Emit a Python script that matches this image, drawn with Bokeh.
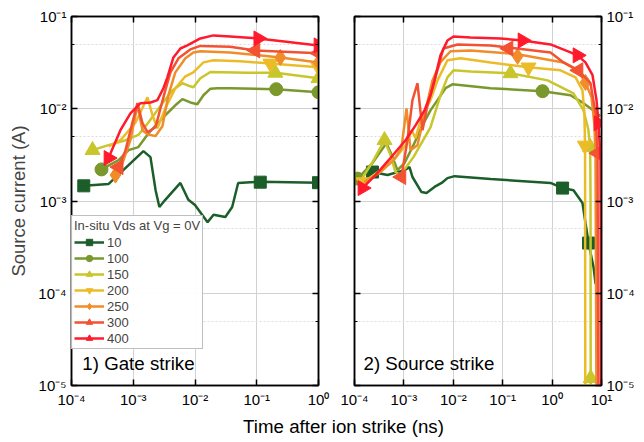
import numpy as np
from bokeh.plotting import figure
from bokeh.models import (LogAxis, FixedTicker, CustomJSTickFormatter, Legend,
                          LegendItem, Label, Range1d)
from bokeh.layouts import row, column
from bokeh.embed import file_html
from bokeh.resources import INLINE

# ---------------- data ----------------
series_labels = ["10", "100", "150", "200", "250", "300", "400"]

# Panel 1) Gate strike
g10_t = [1.58e-4, 4.0e-4, 1.46e-3, 1.9e-3, 2.3e-3, 2.65e-3, 3.3e-3, 5.8e-3, 7.8e-3, 1.0e-2,
         1.6e-2, 2.0e-2, 3.1e-2, 4.0e-2, 5.0e-2, 7.9e-2, 0.114, 1.0]
g10_i = [1.46e-3, 1.53e-3, 3.47e-3, 2.99e-3, 1.31e-3, 8.6e-4, 1.03e-3, 1.57e-3, 1.03e-3, 9.05e-4,
         5.9e-4, 7.1e-4, 6.7e-4, 8.6e-4, 1.57e-3, 1.6e-3, 1.62e-3, 1.58e-3]
g100_t = [3.06e-4, 5.8e-4, 8.4e-4, 1.21e-3, 1.76e-3, 3.3e-3, 4.8e-3, 6.25e-3, 8.4e-3, 1.09e-2,
          1.37e-2, 1.78e-2, 2.3e-2, 3.7e-2, 0.207, 1.0]
g100_i = [2.2e-3, 2.77e-3, 3.56e-3, 3.84e-3, 5.4e-3, 8.5e-3, 1.09e-2, 1.27e-2, 1.17e-2, 1.12e-2,
          1.4e-2, 1.65e-2, 1.67e-2, 1.67e-2, 1.63e-2, 1.51e-2]
g150_t = [2.19e-4, 3.97e-4, 7.5e-4, 1.21e-3, 1.76e-3, 2.97e-3, 4.3e-3, 6.25e-3, 7.5e-3, 9.4e-3,
          1.22e-2, 1.78e-2, 7.0e-2, 0.2, 1.0]
g150_i = [3.56e-3, 4.03e-3, 4.56e-3, 5.2e-3, 7.1e-3, 1.15e-2, 1.58e-2, 1.89e-2, 1.80e-2, 1.71e-2,
          2.14e-2, 2.5e-2, 2.45e-2, 2.45e-2, 2.14e-2]
g200_t = [4.0e-4, 6.2e-4, 1.09e-3, 1.70e-3, 2.05e-3, 2.46e-3, 3.3e-3, 4.8e-3, 7.0e-3, 9.4e-3,
          1.37e-2, 1.99e-2, 5.4e-2, 0.166, 1.0]
g200_i = [3.9e-3, 4.56e-3, 7.1e-3, 1.33e-2, 8.5e-3, 6.15e-3, 1.01e-2, 1.67e-2, 2.25e-2, 2.48e-2,
          3.18e-2, 3.35e-2, 3.27e-2, 3.1e-2, 2.81e-2]
g250_t = [5.15e-4, 6.7e-4, 9.0e-4, 1.17e-3, 1.41e-3, 1.70e-3, 2.29e-3, 2.97e-3, 3.7e-3, 4.8e-3,
          7.0e-3, 9.4e-3, 1.22e-2, 3.7e-2, 0.241, 1.0]
g250_i = [1.91e-3, 2.58e-3, 4.56e-3, 1.09e-2, 5.86e-3, 5.3e-3, 5.05e-3, 6.47e-3, 1.40e-2, 2.48e-2,
          3.52e-2, 4.08e-2, 4.2e-2, 4.08e-2, 3.6e-2, 3.18e-2]
g300_t = [5.8e-4, 7.5e-4, 9.7e-4, 1.17e-3, 1.41e-3, 1.70e-3, 2.29e-3, 3.3e-3, 4.0e-3, 5.4e-3,
          8.4e-3, 1.22e-2, 3.7e-2, 9.5e-2, 1.0]
g300_i = [2.33e-3, 3.56e-3, 7.1e-3, 1.15e-2, 6.97e-3, 5.57e-3, 6.3e-3, 1.58e-2, 2.48e-2, 3.52e-2,
          4.4e-2, 4.8e-2, 4.7e-2, 4.29e-2, 4.0e-2]
g400_t = [3.97e-4, 6.2e-4, 9.0e-4, 1.31e-3, 1.90e-3, 2.46e-3, 3.08e-3, 3.57e-3, 4.47e-3, 5.8e-3,
          7.5e-3, 1.22e-2, 1.99e-2, 3.7e-2, 0.106, 1.0]
g400_i = [2.92e-3, 5.86e-3, 8.9e-3, 1.15e-2, 1.17e-2, 1.24e-2, 1.67e-2, 2.19e-2, 3.6e-2, 4.5e-2,
          4.86e-2, 5.78e-2, 6.24e-2, 6.08e-2, 5.78e-2, 4.86e-2]

g10_mt, g10_mi = [1.58e-4, 0.114, 1.0], [1.46e-3, 1.6e-3, 1.58e-3]
g100_mt, g100_mi = [3.06e-4, 0.207, 1.0], [2.2e-3, 1.63e-2, 1.51e-2]
g150_mt, g150_mi = [2.19e-4, 0.2, 1.0], [3.56e-3, 2.45e-2, 2.14e-2]
g200_mt, g200_mi = [0.166, 1.0], [3.1e-2, 2.81e-2]
g250_mt, g250_mi = [5.15e-4, 0.241, 1.0], [1.91e-3, 3.6e-2, 3.18e-2]
g300_mt, g300_mi = [5.8e-4, 9.5e-2, 1.0], [2.33e-3, 4.29e-2, 4.0e-2]
g400_mt, g400_mi = [3.97e-4, 0.106, 1.0], [2.92e-3, 5.78e-2, 4.86e-2]

# Panel 2) Source strike
s10_t = [2.31e-4, 4.66e-4, 1.03e-3, 1.30e-3, 1.49e-3, 2.27e-3, 2.87e-3, 4.16e-3, 5.8e-3, 7.6e-3,
         1.06e-2, 5.7e-2, 0.93, 1.63, 2.71, 4.12, 4.74, 5.46, 6.89, 7.6]
s10_i = [2.06e-3, 1.91e-3, 2.16e-3, 2.33e-3, 1.82e-3, 1.25e-3, 1.22e-3, 1.42e-3, 1.57e-3, 1.77e-3,
         1.86e-3, 1.73e-3, 1.57e-3, 1.38e-3, 1.31e-3, 9.5e-4, 5.8e-4, 3.5e-4, 1.93e-4, 1.26e-4]
s100_t = [1.15e-4, 2.31e-4, 4.44e-4, 5.9e-4, 7.4e-4, 1.03e-3, 1.56e-3, 2.27e-3, 3.45e-3, 4.79e-3,
          6.95e-3, 9.6e-3, 5.7e-2, 0.64, 2.36, 4.32, 7.57, 9.55]
s100_i = [1.75e-3, 2.58e-3, 4.24e-3, 2.99e-3, 2.16e-3, 2.58e-3, 4.03e-3, 6.3e-3, 9.6e-3, 1.24e-2,
          1.67e-2, 1.84e-2, 1.67e-2, 1.55e-2, 1.40e-2, 1.15e-2, 9.2e-3, 8.3e-3]
s150_t = [1.32e-4, 2.31e-4, 4.05e-4, 5.35e-4, 6.76e-4, 8.5e-4, 1.56e-3, 3.45e-3, 5.5e-3, 7.6e-3,
          1.01e-2, 2.23e-2, 0.144, 0.81, 2.71, 4.32, 5.4, 5.9, 6.0, 6.05]
s150_i = [1.64e-3, 2.64e-3, 4.56e-3, 3.14e-3, 2.06e-3, 1.91e-3, 2.99e-3, 6.3e-3, 1.40e-2, 2.19e-2,
          2.61e-2, 2.54e-2, 2.42e-2, 2.03e-2, 1.47e-2, 9.6e-3, 6.0e-3, 3.8e-3, 1.0e-3, 5e-6]
s200_t = [1.52e-4, 3.36e-4, 6.76e-4, 1.08e-3, 1.43e-3, 1.72e-3, 2.27e-3, 3.45e-3, 4.79e-3, 7.6e-3,
          1.40e-2, 5.7e-2, 0.333, 1.48, 2.98, 4.12, 4.5, 4.65, 4.7]
s200_i = [1.60e-3, 2.16e-3, 2.92e-3, 4.03e-3, 5.86e-3, 4.8e-3, 8.1e-3, 1.24e-2, 2.03e-2, 3.35e-2,
          3.52e-2, 3.18e-2, 2.81e-2, 2.61e-2, 2.19e-2, 1.58e-2, 9.0e-3, 4.0e-3, 5e-6]
s250_t = [1.59e-4, 3.36e-4, 6.2e-4, 8.9e-4, 1.13e-3, 1.36e-3, 1.88e-3, 2.74e-3, 3.79e-3, 5.5e-3,
          8.8e-3, 2.23e-2, 0.2, 1.70, 3.27, 4.74, 6.28, 7.21, 7.57, 7.93]
s250_i = [1.6e-3, 2.06e-3, 2.77e-3, 3.74e-3, 1.01e-2, 3.56e-3, 4.03e-3, 9.6e-3, 2.03e-2, 3.2e-2,
          4.2e-2, 4.29e-2, 3.9e-2, 3.18e-2, 2.61e-2, 1.93e-2, 1.33e-2, 6.6e-3, 2.77e-3, 5e-6]
s300_t = [8.9e-4, 1.18e-3, 1.49e-3, 1.88e-3, 2.38e-3, 3.0e-3, 3.79e-3, 6.3e-3, 1.22e-2, 5.7e-2,
          0.131, 0.93, 1.70, 3.42, 5.99, 7.57, 8.3, 8.7]
s300_i = [1.82e-3, 4.56e-3, 1.24e-2, 1.89e-2, 5.86e-3, 1.09e-2, 1.67e-2, 4.5e-2, 4.98e-2, 4.86e-2,
          4.6e-2, 4.08e-2, 3.18e-2, 2.61e-2, 1.89e-2, 8.9e-3, 3.3e-3, 5e-6]
s400_t = [1.45e-4, 2.66e-4, 5.35e-4, 1.08e-3, 1.72e-3, 2.61e-3, 3.45e-3, 4.16e-3, 5.5e-3, 7.6e-3,
          1.01e-2, 2.23e-2, 9.0e-2, 0.252, 0.93, 2.36, 3.27, 4.74, 6.58, 7.93, 8.7, 9.55, 9.8]
s400_i = [1.38e-3, 1.91e-3, 2.92e-3, 4.56e-3, 6.6e-3, 9.6e-3, 1.40e-2, 2.03e-2, 3.79e-2, 5.5e-2,
          6.08e-2, 5.93e-2, 5.78e-2, 5.5e-2, 4.98e-2, 4.08e-2, 3.79e-2, 3.18e-2, 2.31e-2, 1.24e-2,
          6.97e-3, 2.77e-3, 5e-6]

s10_mt, s10_mi = [2.31e-4, 1.63, 5.46], [2.06e-3, 1.38e-3, 3.5e-4]
s100_mt, s100_mi = [1.15e-4, 0.64], [1.75e-3, 1.55e-2]
s150_mt, s150_mi = [4.05e-4, 0.144, 5.9, 6.05], [4.56e-3, 2.42e-2, 3.84e-3, 1.2e-5]
s200_mt, s200_mi = [1.52e-4, 0.333, 4.6], [1.6e-3, 2.81e-2, 4.0e-3]
s250_mt, s250_mi = [0.2, 4.74], [3.7e-2, 1.93e-2]
s300_mt, s300_mi = [8.9e-4, 0.131, 3.42, 8.3], [1.82e-3, 4.5e-2, 2.61e-2, 3.3e-3]
s400_mt, s400_mi = [1.45e-4, 0.252, 3.27, 8.7], [1.38e-3, 5.5e-2, 3.79e-2, 6.97e-3]

x_ticks_gate = [1e-4, 1e-3, 1e-2, 1e-1, 1e0]
x_ticks_source = [1e-4, 1e-3, 1e-2, 1e-1, 1e0, 1e1]
y_ticks = [1e-5, 1e-4, 1e-3, 1e-2, 1e-1]
y_minor_ticks = [5e-5, 5e-4, 5e-3, 5e-2]

# ---------------- style ----------------
colors = ["#1b5e2a", "#7a982c", "#c9c62c", "#ecbc28", "#f08c2a", "#f25232", "#ff1a2c"]
markers = ["square", "circle", "triangle", "inverted_triangle", "diamond", "triangle", "triangle"]
angles = [0, 0, 0, 0, 0, np.pi / 2, -np.pi / 2]
msizes = [12, 13, 15, 15, 16, 15, 15]
FONT = "Liberation Sans"

sup_fmt = CustomJSTickFormatter(code="""
const e = Math.round(Math.log10(tick));
const m = {'-':'\u207b','0':'\u2070','1':'\u00b9','2':'\u00b2','3':'\u00b3','4':'\u2074',
           '5':'\u2075','6':'\u2076','7':'\u2077','8':'\u2078','9':'\u2079'};
return '10' + String(e).split('').map(c => m[c]).join('');
""")
empty_fmt = CustomJSTickFormatter(code="return '';")


def style_axis(ax, ticks, minor, labels):
    ax.ticker = FixedTicker(ticks=ticks, minor_ticks=minor)
    ax.major_tick_in = 6
    ax.major_tick_out = 0
    ax.minor_tick_in = 3
    ax.minor_tick_out = 0
    ax.axis_line_color = "black"
    ax.axis_line_width = 1.5
    ax.major_tick_line_color = "black"
    ax.major_tick_line_width = 1.5
    ax.minor_tick_line_color = "black"
    ax.minor_tick_line_width = 1.2
    if labels:
        ax.formatter = sup_fmt
        ax.major_label_text_font = FONT
        ax.major_label_text_font_size = "15px"
        ax.major_label_text_color = "black"
        ax.major_label_standoff = 5
    else:
        ax.formatter = empty_fmt
        ax.major_label_text_font_size = "0px"
        ax.major_label_standoff = 0


def make_panel(x_end, xticks, width, bl, br, yside):
    p = figure(width=width, height=410, x_axis_type="log", y_axis_type="log",
               x_range=Range1d(1e-4, x_end), y_range=Range1d(1e-5, 1e-1),
               y_axis_location=yside, output_backend="svg", toolbar_location=None,
               min_border_left=bl, min_border_right=br, min_border_top=16, min_border_bottom=24)
    p.outline_line_color = "black"
    p.outline_line_width = 1.5
    style_axis(p.xaxis[0], xticks, [], True)
    style_axis(p.yaxis[0], y_ticks, y_minor_ticks, True)
    top = LogAxis()
    style_axis(top, xticks, [], False)
    p.add_layout(top, "above")
    other = LogAxis()
    style_axis(other, y_ticks, y_minor_ticks, False)
    p.add_layout(other, "right" if yside == "left" else "left")
    p.xgrid.ticker = FixedTicker(ticks=xticks)
    p.ygrid.ticker = FixedTicker(ticks=y_ticks, minor_ticks=y_minor_ticks)
    p.grid.grid_line_color = "#d2d2d2"
    p.grid.grid_line_width = 1
    p.ygrid.minor_grid_line_color = "#dcdcdc"
    p.ygrid.minor_grid_line_dash = "2 2"
    return p


p1 = make_panel(1e0, x_ticks_gate, 336, 71, 18, "left")
p1.yaxis[0].axis_label = "Source current (A)"
p1.yaxis[0].axis_label_text_font = FONT
p1.yaxis[0].axis_label_text_font_size = "18.5px"
p1.yaxis[0].axis_label_text_font_style = "normal"
p1.yaxis[0].axis_label_standoff = 6

p2 = make_panel(1e1, x_ticks_source, 301, 18, 36, "right")

gate_lines = [(g10_t, g10_i), (g100_t, g100_i), (g150_t, g150_i), (g200_t, g200_i),
              (g250_t, g250_i), (g300_t, g300_i), (g400_t, g400_i)]
gate_marks = [(g10_mt, g10_mi), (g100_mt, g100_mi), (g150_mt, g150_mi), (g200_mt, g200_mi),
              (g250_mt, g250_mi), (g300_mt, g300_mi), (g400_mt, g400_mi)]
src_lines = [(s10_t, s10_i), (s100_t, s100_i), (s150_t, s150_i), (s200_t, s200_i),
             (s250_t, s250_i), (s300_t, s300_i), (s400_t, s400_i)]
src_marks = [(s10_mt, s10_mi), (s100_mt, s100_mi), (s150_mt, s150_mi), (s200_mt, s200_mi),
             (s250_mt, s250_mi), (s300_mt, s300_mi), (s400_mt, s400_mi)]

items = []
for k in range(7):
    lr = p1.line(gate_lines[k][0], gate_lines[k][1], line_color=colors[k], line_width=2.5)
    sr = p1.scatter(gate_marks[k][0], gate_marks[k][1], marker=markers[k], size=msizes[k],
                    angle=angles[k], fill_color=colors[k], line_color=colors[k])
    items.append(LegendItem(label=series_labels[k], renderers=[lr, sr]))
    p2.line(src_lines[k][0], src_lines[k][1], line_color=colors[k], line_width=2.5)
    p2.scatter(src_marks[k][0], src_marks[k][1], marker=markers[k], size=msizes[k],
               angle=angles[k], fill_color=colors[k], line_color=colors[k])

legend = Legend(items=items, location=(0, 36), title="In-situ Vds at Vg = 0V")
legend.title_text_font = FONT
legend.title_text_font_size = "13px"
legend.title_text_font_style = "normal"
legend.title_standoff = 1
legend.label_text_font = FONT
legend.label_text_font_size = "13px"
legend.glyph_width = 30
legend.glyph_height = 16
legend.label_height = 16
legend.label_standoff = 3
legend.spacing = 0
legend.padding = 2
legend.margin = 0
legend.border_line_color = "#808080"
legend.border_line_width = 1
p1.add_layout(legend)

p1.add_layout(Label(x=1.5e-4, y=1.73e-5, text="1) Gate strike", text_font=FONT,
                    text_font_size="18.7px", text_color="black", text_baseline="alphabetic"))
p2.add_layout(Label(x=1.52e-4, y=1.73e-5, text="2) Source strike", text_font=FONT,
                    text_font_size="18.7px", text_color="black", text_baseline="alphabetic"))

pl = figure(width=637, height=30, x_range=Range1d(0, 637), y_range=Range1d(0, 30),
            x_axis_location=None, y_axis_location=None, output_backend="svg",
            toolbar_location=None, min_border=0)
pl.grid.visible = False
pl.outline_line_color = None
pl.add_layout(Label(x=343, y=14, text="Time after ion strike (ns)", text_align="center",
                    text_baseline="middle", text_font=FONT, text_font_size="18.7px",
                    text_color="black"))

layout = column(row(p1, p2), pl)
open("out.html", "w").write(file_html(layout, INLINE))
